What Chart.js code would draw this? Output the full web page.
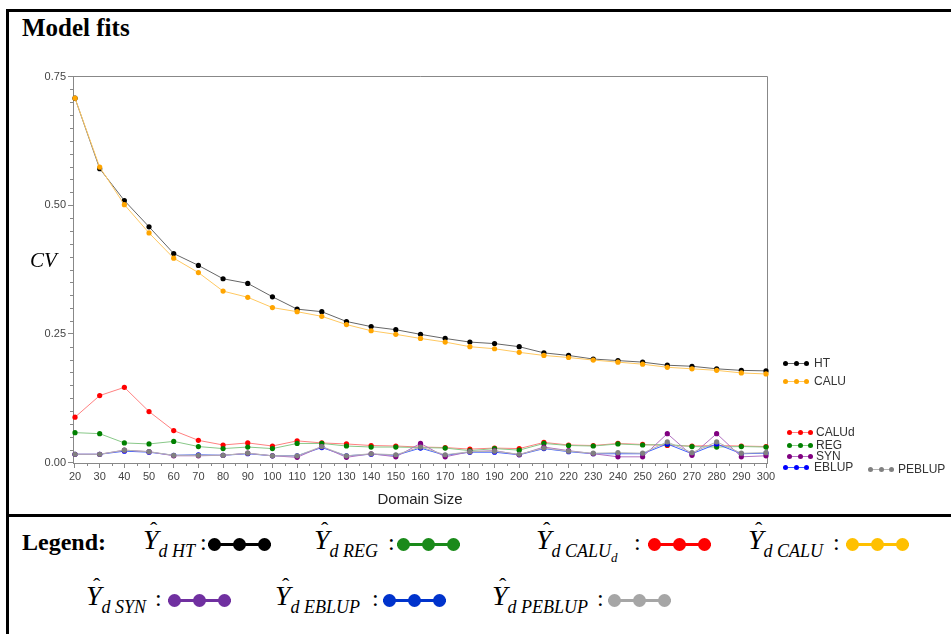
<!DOCTYPE html>
<html lang="en">
<head>
<meta charset="UTF-8">
<title>Model fits</title>
<script src="https://cdn.jsdelivr.net/npm/chart.js"></script>
<style>
  body { margin: 0; width: 951px; height: 634px; overflow: hidden; position: relative; background: #fff; font-family: 'Liberation Serif', 'Times New Roman', serif; }
  #frame { position: absolute; left: 6px; top: 9px; width: 1000px; height: 700px; border-left: 3px solid #000; border-top: 3px solid #000; }
  #divider { position: absolute; left: 6px; top: 514px; width: 1000px; height: 3px; background: #000; }
  #chartBox { position: absolute; left: 0; top: 0; }
  #title { position: absolute; left: 22px; top: 15px; font-weight: bold; font-size: 25px; line-height: 25px; }
  #cv { position: absolute; left: 30px; top: 250px; font-style: italic; font-size: 21px; line-height: 21px; }
  .lg { position: absolute; font: 12px 'Liberation Sans', Arial, sans-serif; color: #333; line-height: 12px; }
  .mk { position: absolute; }
  .mk .ln { position: absolute; left: 0; right: 0; }
  .mk .dot { position: absolute; border-radius: 50%; }
  #legendWord { position: absolute; left: 22px; top: 530px; font-weight: bold; font-size: 24px; line-height: 24px; }
  .sym { position: absolute; font-size: 28px; line-height: 28px; white-space: nowrap; }
  .sym .yh { position: relative; font-style: italic; }
  .sym .hat { position: absolute; left: 7px; top: -8px; font-style: normal; font-size: 22px; }
  .sym .sb { position: relative; top: 8px; font-style: italic; font-size: 18px; }
  .sym .ssb { position: relative; top: 13px; font-style: italic; font-size: 13px; }
  .colon { position: absolute; font-size: 24px; line-height: 24px; }
</style>
</head>
<body>
<div id="frame"></div>
<div id="divider"></div>
<div id="title">Model fits</div>
<div id="chartBox"><canvas id="cvChart" width="951" height="512"></canvas></div>
<div id="cv">CV</div>
<div id="sideLegend"></div>
<div id="legendWord">Legend:</div>
<div id="bottomLegend"></div>

<script>
  // domain sizes (x axis)
  const domainSize = [20, 30, 40, 50, 60, 70, 80, 90, 100, 110, 120, 130, 140, 150, 160,
                      170, 180, 190, 200, 210, 220, 230, 240, 250, 260, 270, 280, 290, 300];

  // CV values
  const cvHT = [0.708, 0.571, 0.509, 0.458, 0.406, 0.383, 0.357, 0.348, 0.322, 0.298, 0.293, 0.274, 0.264, 0.258, 0.249,
                0.241, 0.234, 0.231, 0.225, 0.213, 0.208, 0.201, 0.198, 0.195, 0.189, 0.187, 0.182, 0.179, 0.178];
  const cvCALU = [0.708, 0.574, 0.501, 0.446, 0.397, 0.369, 0.333, 0.321, 0.301, 0.293, 0.284, 0.268, 0.256, 0.249, 0.241,
                  0.234, 0.225, 0.221, 0.214, 0.208, 0.204, 0.199, 0.195, 0.191, 0.185, 0.182, 0.179, 0.174, 0.172];
  const cvCALUd = [0.088, 0.130, 0.146, 0.099, 0.062, 0.043, 0.034, 0.038, 0.032, 0.042, 0.038, 0.036, 0.033, 0.032, 0.030,
                   0.029, 0.026, 0.028, 0.027, 0.039, 0.034, 0.033, 0.037, 0.035, 0.033, 0.032, 0.033, 0.032, 0.031];
  const cvREG = [0.058, 0.056, 0.038, 0.036, 0.041, 0.031, 0.027, 0.030, 0.027, 0.037, 0.037, 0.032, 0.030, 0.030, 0.029,
                 0.028, 0.023, 0.027, 0.024, 0.037, 0.033, 0.032, 0.036, 0.034, 0.035, 0.031, 0.030, 0.031, 0.030];
  const cvSYN = [0.016, 0.016, 0.024, 0.021, 0.013, 0.013, 0.014, 0.018, 0.013, 0.010, 0.031, 0.010, 0.017, 0.011, 0.037,
                 0.011, 0.021, 0.023, 0.015, 0.030, 0.023, 0.017, 0.011, 0.011, 0.056, 0.014, 0.056, 0.011, 0.013];
  const cvEBLUP = [0.016, 0.016, 0.022, 0.020, 0.014, 0.015, 0.014, 0.017, 0.013, 0.013, 0.029, 0.013, 0.016, 0.014, 0.028,
                   0.014, 0.020, 0.020, 0.015, 0.027, 0.021, 0.017, 0.017, 0.017, 0.036, 0.017, 0.036, 0.017, 0.018];
  const cvPEBLUP = [0.016, 0.016, 0.024, 0.021, 0.014, 0.014, 0.014, 0.018, 0.013, 0.013, 0.031, 0.013, 0.017, 0.015, 0.030,
                    0.015, 0.021, 0.022, 0.016, 0.028, 0.022, 0.018, 0.019, 0.018, 0.040, 0.019, 0.040, 0.018, 0.019];

  const seriesNames = ['HT', 'CALU', 'CALUd', 'REG', 'SYN', 'EBLUP', 'PEBLUP'];
  const seriesValues = [cvHT, cvCALU, cvCALUd, cvREG, cvSYN, cvEBLUP, cvPEBLUP];
  const pointColors = ['#000000', '#ffa500', '#ff0000', '#008000', '#800080', '#0000ff', '#808080'];
  const lineColors = ['#666666', '#ffc860', '#ff8080', '#88c888', '#b070c0', '#4060ff', '#b4b4b4'];
  const drawOrder = [6, 5, 4, 3, 1, 2, 0];   // lower = drawn on top

  const yTicks = [0, 0.25, 0.5, 0.75];
  const yMinorStep = 0.025;
  const xMinorStep = 5;

  // colours of the bottom (document) legend
  const legendColors = { HT: '#000000', REG: '#1a8a1a', CALUd: '#ff0000', CALU: '#ffc000', SYN: '#7030a0', EBLUP: '#0033cc', PEBLUP: '#a6a6a6' };

  // plot frame + minor tick marks
  const frameAndMinor = {
    id: 'frameAndMinor',
    beforeDatasetsDraw(chart) {
      const { ctx, chartArea: a, scales: { x, y } } = chart;
      ctx.save();
      ctx.strokeStyle = '#888';
      ctx.lineWidth = 1;
      ctx.beginPath();
      ctx.moveTo(a.left, a.top + 0.5);
      ctx.lineTo(a.right + 0.5, a.top + 0.5);
      ctx.lineTo(a.right + 0.5, a.bottom);
      for (let k = 1; k < 30; k++) {
        if (k % 10 === 0) continue;
        const py = Math.round(y.getPixelForValue(k * yMinorStep)) + 0.5;
        ctx.moveTo(a.left - 3, py);
        ctx.lineTo(a.left, py);
      }
      for (let v = domainSize[0] + xMinorStep; v < domainSize[domainSize.length - 1]; v += 2 * xMinorStep) {
        const px = Math.round(x.getPixelForValue(v)) + 0.5;
        ctx.moveTo(px, a.bottom);
        ctx.lineTo(px, a.bottom + 3);
      }
      ctx.stroke();
      ctx.restore();
    }
  };

  const datasets = seriesNames.map((name, i) => ({
    label: name,
    data: domainSize.map((d, j) => ({ x: d, y: seriesValues[i][j] })),
    borderColor: lineColors[i],
    backgroundColor: pointColors[i],
    borderWidth: 1,
    pointRadius: 2.6,
    pointBorderWidth: 0,
    pointBackgroundColor: pointColors[i],
    tension: 0,
    order: drawOrder[i],
    clip: 4
  }));

  new Chart(document.getElementById('cvChart'), {
    type: 'line',
    data: { datasets: datasets },
    options: {
      responsive: false,
      animation: false,
      devicePixelRatio: 1,
      layout: { padding: { left: 0, top: 76, right: 184, bottom: 2 } },
      plugins: { legend: { display: false }, tooltip: { enabled: false } },
      scales: {
        x: {
          type: 'linear',
          min: 19.19,
          max: 300.4,
          afterFit: s => { s.height = 47; },
          afterBuildTicks: s => { s.ticks = domainSize.map(v => ({ value: v })); },
          grid: { drawOnChartArea: false, tickLength: 5, color: '#888' },
          border: { color: '#888' },
          ticks: {
            autoSkip: false, maxRotation: 0, padding: 2,
            color: '#444', font: { family: 'Liberation Sans', size: 11 },
            callback: v => String(v)
          },
          title: {
            display: true, text: 'Domain Size', color: '#222',
            font: { family: 'Liberation Sans', size: 15 },
            padding: { top: 0, bottom: 1 }
          }
        },
        y: {
          min: -0.001,
          max: 0.751,
          afterFit: s => { s.width = 73; },
          afterBuildTicks: s => { s.ticks = yTicks.map(v => ({ value: v })); },
          grid: { drawOnChartArea: false, tickLength: 5, color: '#888' },
          border: { color: '#888' },
          ticks: {
            padding: 2, color: '#444',
            font: { family: 'Liberation Sans', size: 11 },
            callback: v => v.toFixed(2)
          }
        }
      }
    },
    plugins: [frameAndMinor]
  });

  // small marker: line with three dots
  function marker(left, cy, width, color, lineColor, lineW, dotD) {
    const m = document.createElement('div');
    m.className = 'mk';
    m.style.left = left + 'px';
    m.style.top = (cy - dotD / 2) + 'px';
    m.style.width = width + 'px';
    m.style.height = dotD + 'px';
    const ln = document.createElement('div');
    ln.className = 'ln';
    ln.style.top = (dotD / 2 - lineW / 2) + 'px';
    ln.style.height = lineW + 'px';
    ln.style.background = lineColor;
    m.appendChild(ln);
    [0, 0.5, 1].forEach(f => {
      const d = document.createElement('div');
      d.className = 'dot';
      d.style.width = dotD + 'px';
      d.style.height = dotD + 'px';
      d.style.left = (f * (width - dotD)) + 'px';
      d.style.top = '0px';
      d.style.background = color;
      m.appendChild(d);
    });
    return m;
  }

  // legend on the right of the plot: [marker x, y, text x]
  const sidePos = [[783, 363, 814], [783, 381, 814], [787, 432, 816], [787, 445, 816], [787, 456, 816], [783, 467, 814], [868, 469, 898]];
  const side = document.getElementById('sideLegend');
  seriesNames.forEach((name, i) => {
    const [mx, my, tx] = sidePos[i];
    side.appendChild(marker(mx, my, 26, pointColors[i], lineColors[i], 1, 5));
    const t = document.createElement('div');
    t.className = 'lg';
    t.style.left = tx + 'px';
    t.style.top = (my - 6) + 'px';
    t.textContent = name;
    side.appendChild(t);
  });

  // bottom legend layout: symbol x, colon x, marker x, row
  const bottomOrder = ['HT', 'REG', 'CALUd', 'CALU', 'SYN', 'EBLUP', 'PEBLUP'];
  const bottomPos = [[143, 200, 208, 0], [314, 388, 397, 0], [536, 634, 648, 0], [748, 833, 846, 0],
                     [86, 155, 168, 1], [275, 372, 383, 1], [492, 597, 608, 1]];
  const symTop = [526, 582];
  const colonTop = [530, 586];
  const rowMid = [544, 600];
  const bottom = document.getElementById('bottomLegend');
  bottomOrder.forEach((name, i) => {
    const [sx, cx, mx, row] = bottomPos[i];
    const s = document.createElement('div');
    s.className = 'sym';
    s.style.left = sx + 'px';
    s.style.top = symTop[row] + 'px';
    const sub = name === 'CALUd'
      ? '<span class="sb">d CALU</span><span class="ssb">d</span>'
      : '<span class="sb">d ' + name + '</span>';
    s.innerHTML = '<span class="yh">Y<span class="hat">ˆ</span></span>' + sub;
    bottom.appendChild(s);
    const c = document.createElement('div');
    c.className = 'colon';
    c.style.left = cx + 'px';
    c.style.top = colonTop[row] + 'px';
    c.textContent = ':';
    bottom.appendChild(c);
    bottom.appendChild(marker(mx, rowMid[row], 63, legendColors[name], legendColors[name], 3, 13));
  });
</script>
</body>
</html>
